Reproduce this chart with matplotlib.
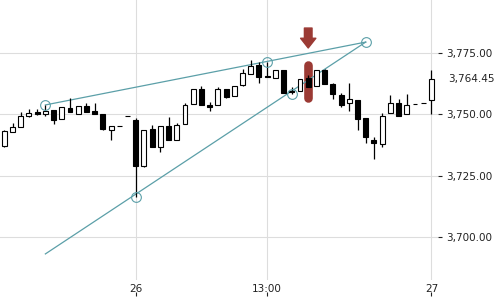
import matplotlib
matplotlib.use("Agg")
import matplotlib.pyplot as plt
import matplotlib.transforms as mtransforms

# OHLC values (one candle per bar index)
opens = [3737.1, 3742.9, 3744.9, 3749.3, 3750.9, 3750.2, 3751.7, 3748.1, 3752.4, 3750.2,
         3753.5, 3751.3, 3750.1, 3743.5, 3745.1, 3749.3, 3747.5, 3729.1, 3743.9, 3736.7,
         3745.1, 3739.5, 3746.0, 3754.2, 3760.1, 3753.7, 3753.6, 3760.4, 3757.4, 3761.8,
         3766.2, 3770.1, 3765.4, 3764.6, 3768.0, 3759.3, 3759.3, 3764.6, 3761.3, 3767.8,
         3762.2, 3757.7, 3754.4, 3755.8, 3748.3, 3739.5, 3737.8, 3750.4, 3754.6, 3750.0,
         3754.2, 3754.7, 3755.7]
highs = [3743.6, 3746.4, 3750.9, 3752.1, 3752.1, 3753.8, 3751.7, 3753.0, 3756.5, 3753.5,
         3754.7, 3754.7, 3750.1, 3745.1, 3745.1, 3749.3, 3748.3, 3743.5, 3745.5, 3745.1,
         3749.0, 3746.6, 3754.7, 3760.1, 3761.6, 3755.1, 3760.9, 3760.4, 3761.5, 3768.3,
         3772.0, 3771.3, 3771.0, 3767.8, 3768.0, 3760.9, 3764.2, 3765.9, 3767.8, 3768.3,
         3762.8, 3758.6, 3762.8, 3755.8, 3748.3, 3740.6, 3750.4, 3757.8, 3756.2, 3758.2,
         3754.2, 3754.7, 3768.0]
lows = [3736.5, 3742.6, 3744.6, 3749.0, 3749.7, 3749.4, 3745.9, 3748.0, 3750.8, 3750.0,
        3751.0, 3750.0, 3743.6, 3739.5, 3745.1, 3749.3, 3716.5, 3728.4, 3736.6, 3734.5,
        3739.5, 3739.5, 3746.0, 3754.2, 3753.6, 3751.4, 3753.6, 3756.7, 3757.4, 3761.3,
        3766.2, 3762.6, 3765.0, 3764.6, 3758.7, 3758.3, 3759.3, 3761.2, 3761.3, 3762.2,
        3756.1, 3752.8, 3751.4, 3743.6, 3738.2, 3731.7, 3736.6, 3750.4, 3749.4, 3750.0,
        3754.2, 3754.7, 3750.0]
closes = [3743.2, 3744.9, 3749.3, 3750.4, 3750.2, 3751.2, 3747.7, 3752.8, 3750.8, 3753.5,
          3751.0, 3750.0, 3744.1, 3745.1, 3745.1, 3749.3, 3729.1, 3743.5, 3736.6, 3745.1,
          3739.5, 3745.5, 3753.6, 3760.1, 3753.6, 3753.1, 3760.4, 3757.1, 3761.5, 3766.6,
          3769.6, 3765.2, 3765.0, 3767.8, 3758.7, 3759.0, 3764.2, 3761.2, 3767.8, 3762.2,
          3758.1, 3753.6, 3756.1, 3747.9, 3740.9, 3738.2, 3749.2, 3754.6, 3749.4, 3753.6,
          3754.2, 3754.7, 3764.45]

# x tick labels (bar index -> label)
tick_idx = [16, 32, 52]
tick_labels = ["26", "13:00", "27"]
y_ticks = [3700, 3725, 3750, 3775]
last_price = 3764.45

# drawing annotations
upper_line_x = [5, 44]
upper_line_y = [3753.75, 3779.3]
lower_line_x = [5, 44]
lower_line_y = [3693.2, 3779.3]
anchor_x = [5, 16, 32, 35, 44]
anchor_y = [3753.75, 3716.5, 3771.2, 3758.2, 3779.3]
highlight_idx = 37
highlight_lo, highlight_hi = 3756.5, 3770.1
arrow_tip, arrow_tail = 3776.9, 3785.0

teal = "#5b9fa8"
red = "#9b3a34"
grid_c = "#dddddd"
txt_c = "#222222"

fig = plt.figure(figsize=(5, 3), dpi=100)
ax = fig.add_axes([0, 20 / 300, 438 / 500, 280 / 300])

# grid
for y in y_ticks:
    ax.axhline(y, color=grid_c, lw=0.8, zorder=0)
for x in tick_idx:
    ax.axvline(x, color=grid_c, lw=0.8, zorder=0)

# highlight behind one candle
ax.plot([highlight_idx, highlight_idx], [highlight_lo, highlight_hi], color=red,
        lw=6.2, solid_capstyle="round", zorder=1)

# trend lines and anchors
ax.plot(upper_line_x, upper_line_y, color=teal, lw=0.9, zorder=1.5)
ax.plot(lower_line_x, lower_line_y, color=teal, lw=0.9, zorder=1.5)
ax.plot(anchor_x, anchor_y, "o", ms=7, mfc="none", mec=teal, mew=0.8,
        zorder=4, clip_on=False)

# candles
idx = list(range(len(opens)))
ax.vlines(idx, lows, highs, color="black", lw=0.9, zorder=2)
bottoms = [min(o, c) for o, c in zip(opens, closes)]
heights = [abs(c - o) for o, c in zip(opens, closes)]
faces = ["white" if c >= o else "black" for o, c in zip(opens, closes)]
ax.bar(idx, heights, bottom=bottoms, width=0.6, color=faces,
       edgecolor="black", linewidth=0.8, zorder=3)

# arrow above the highlighted candle
ax.annotate("", xy=(highlight_idx, arrow_tip), xytext=(highlight_idx, arrow_tail),
            arrowprops=dict(arrowstyle="simple,head_width=11,head_length=7,tail_width=5.5",
                            color=red, shrinkA=0, shrinkB=0, mutation_scale=1),
            annotation_clip=False, zorder=5)

ax.set_xlim(-0.525, 52.8)
ax.set_ylim(3682.6, 3796.4)

for s in ax.spines.values():
    s.set_visible(False)

ax.yaxis.tick_right()
ax.set_yticks(y_ticks)
ax.set_yticklabels([f"{v:,.2f}" for v in y_ticks])
ax.tick_params(axis="y", length=3, width=0.8, pad=3, labelsize=7.5,
               colors=txt_c)

ax.set_xticks(tick_idx)
ax.set_xticklabels(tick_labels)
ax.tick_params(axis="x", length=0, pad=3, labelsize=7.5, colors=txt_c)

# small tick marks below the date labels
sec = ax.secondary_xaxis(-0.043)
sec.set_xticks(tick_idx)
sec.set_xticklabels([])
sec.tick_params(axis="x", length=3, width=0.8, colors=txt_c)
sec.spines["bottom"].set_visible(False)

# last price label
trans = mtransforms.blended_transform_factory(ax.transAxes, ax.transData)
ax.text(1.0 + 10 / 438, last_price, f"{last_price:,.2f}", transform=trans,
        va="center", ha="left", fontsize=7.5, color=txt_c)

fig.savefig("out.png", dpi=100)
